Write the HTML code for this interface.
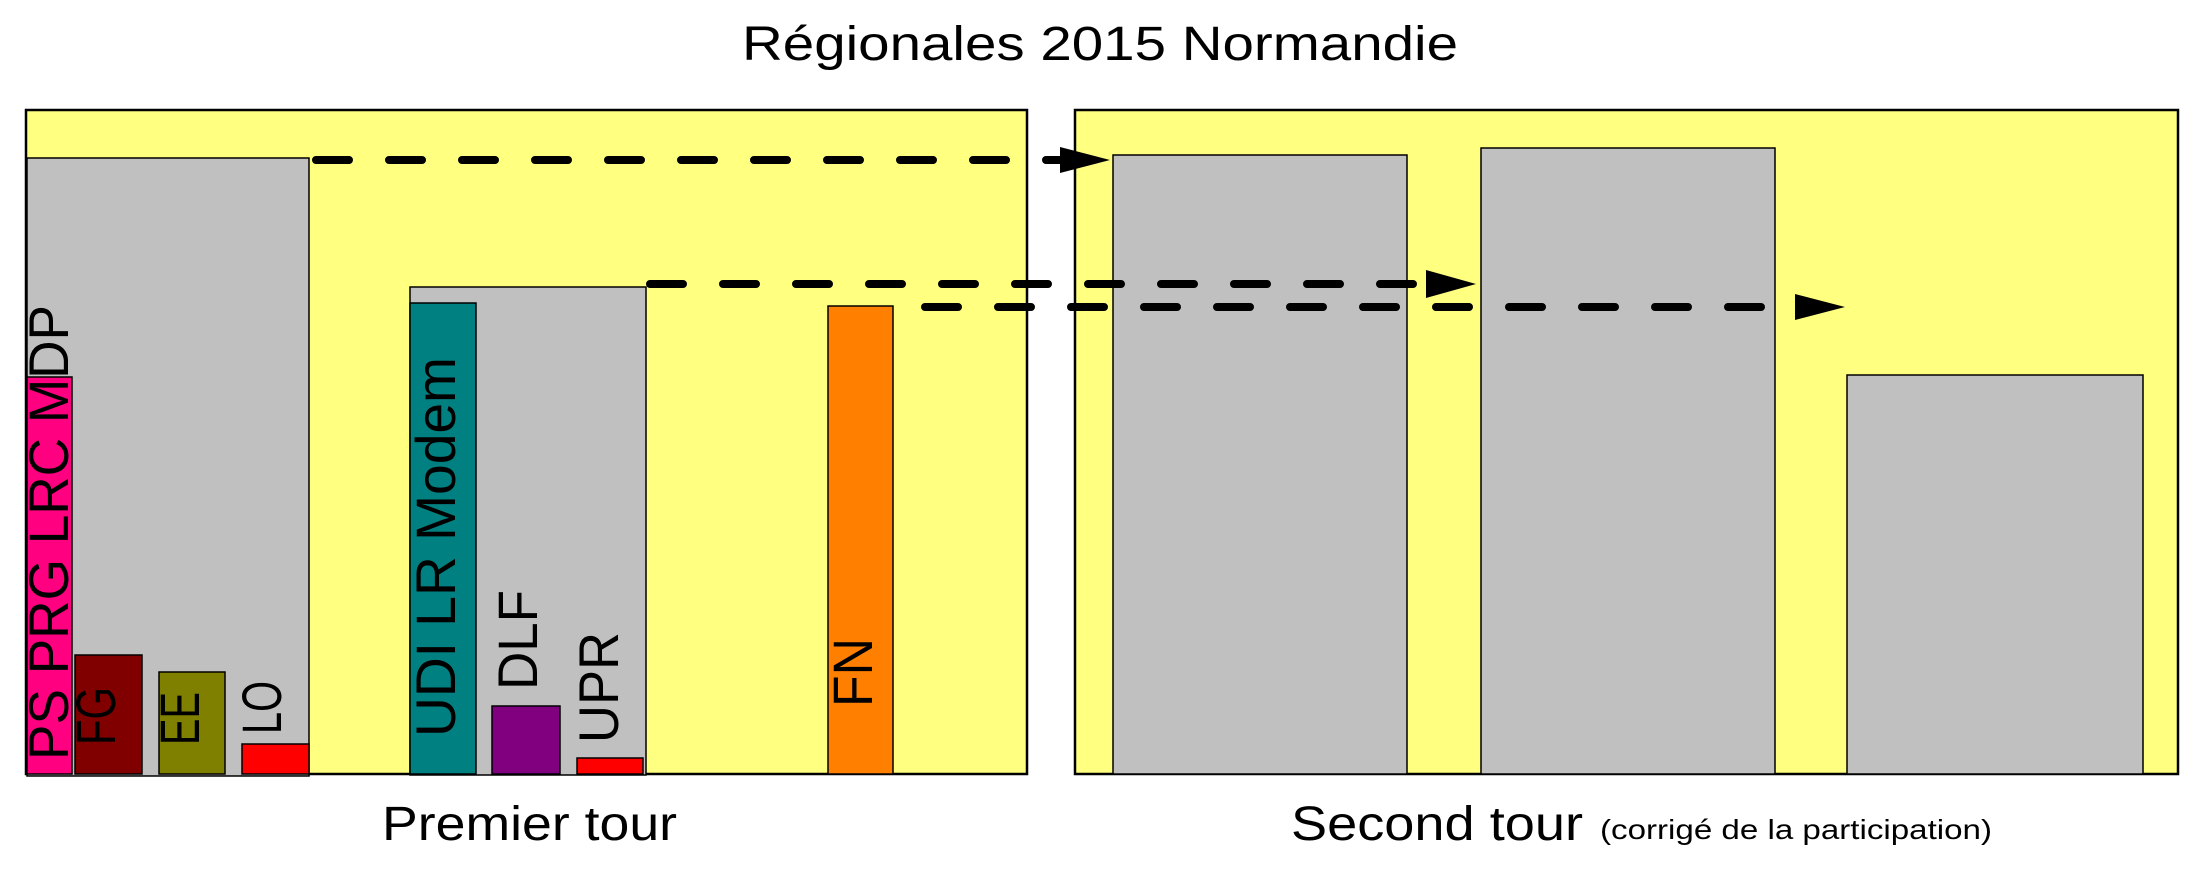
<!DOCTYPE html>
<html><head><meta charset="utf-8"><style>html,body{margin:0;padding:0;background:#fff}svg{display:block}</style></head>
<body>
<svg width="2200" height="872" viewBox="0 0 2200 872" xmlns="http://www.w3.org/2000/svg" font-family="Liberation Sans, Arial, sans-serif">
<rect width="2200" height="872" fill="#fff"/>
<text x="1100" y="60" font-size="48" text-anchor="middle" textLength="716" lengthAdjust="spacingAndGlyphs">Régionales 2015 Normandie</text>
<!-- panels -->
<rect x="26" y="110" width="1001" height="664" fill="#ffff80" stroke="#000" stroke-width="2.5"/>
<rect x="1075" y="110" width="1103" height="664" fill="#ffff80" stroke="#000" stroke-width="2.5"/>
<g stroke="#000" stroke-width="1.5">
<rect x="27" y="158" width="282" height="618" fill="#c0c0c0"/>
<rect x="410" y="287" width="236" height="488" fill="#c0c0c0"/>
<rect x="27" y="377" width="45" height="397" fill="#ff0080"/>
<rect x="75" y="655" width="67" height="119" fill="#800000"/>
<rect x="159" y="672" width="66" height="102" fill="#808000"/>
<rect x="242" y="744" width="67" height="30" fill="#ff0000"/>
<rect x="410" y="303" width="66" height="471" fill="#008080"/>
<rect x="492" y="706" width="68" height="68" fill="#800080"/>
<rect x="577" y="758" width="66" height="16" fill="#ff0000"/>
<rect x="828" y="306" width="65" height="468" fill="#ff8000"/>
<rect x="1113" y="155" width="294" height="619" fill="#c0c0c0"/>
<rect x="1481" y="148" width="294" height="626" fill="#c0c0c0"/>
<rect x="1847" y="375" width="296" height="399" fill="#c0c0c0"/>
</g>
<!-- labels -->
<g font-size="56" fill="#000">
<text transform="translate(68,760) rotate(-90)" textLength="455" lengthAdjust="spacingAndGlyphs">PS PRG LRC MDP</text>
<text transform="translate(115,745) rotate(-90)" textLength="58" lengthAdjust="spacingAndGlyphs">FG</text>
<text transform="translate(199,745) rotate(-90)" textLength="53" lengthAdjust="spacingAndGlyphs">EE</text>
<text transform="translate(281,734) rotate(-90)" textLength="53" lengthAdjust="spacingAndGlyphs">LO</text>
<text transform="translate(455,737) rotate(-90)" textLength="380" lengthAdjust="spacingAndGlyphs">UDI LR Modem</text>
<text transform="translate(537,690) rotate(-90)" textLength="100" lengthAdjust="spacingAndGlyphs">DLF</text>
<text transform="translate(618,743) rotate(-90)" textLength="111" lengthAdjust="spacingAndGlyphs">UPR</text>
<text transform="translate(872,707) rotate(-90)" textLength="69" lengthAdjust="spacingAndGlyphs">FN</text>
</g>
<!-- arrows -->
<g stroke="#000" stroke-width="8" stroke-linecap="round" fill="none" stroke-dasharray="33 40">
<line x1="316" y1="160" x2="1062" y2="160"/>
<line x1="650" y1="284" x2="1428" y2="284"/>
<line x1="925" y1="307" x2="1800" y2="307"/>
</g>
<g fill="#000">
<polygon points="1060,147 1110,160 1060,173"/>
<polygon points="1426,270 1476,284 1426,298"/>
<polygon points="1795,294 1845,307 1795,320"/>
</g>
<text x="382" y="840" font-size="48" textLength="295" lengthAdjust="spacingAndGlyphs">Premier tour</text>
<text x="1291" y="840" font-size="48" textLength="292" lengthAdjust="spacingAndGlyphs">Second tour</text>
<text x="1600" y="839" font-size="28" textLength="392" lengthAdjust="spacingAndGlyphs">(corrigé de la participation)</text>
</svg>
</body></html>
